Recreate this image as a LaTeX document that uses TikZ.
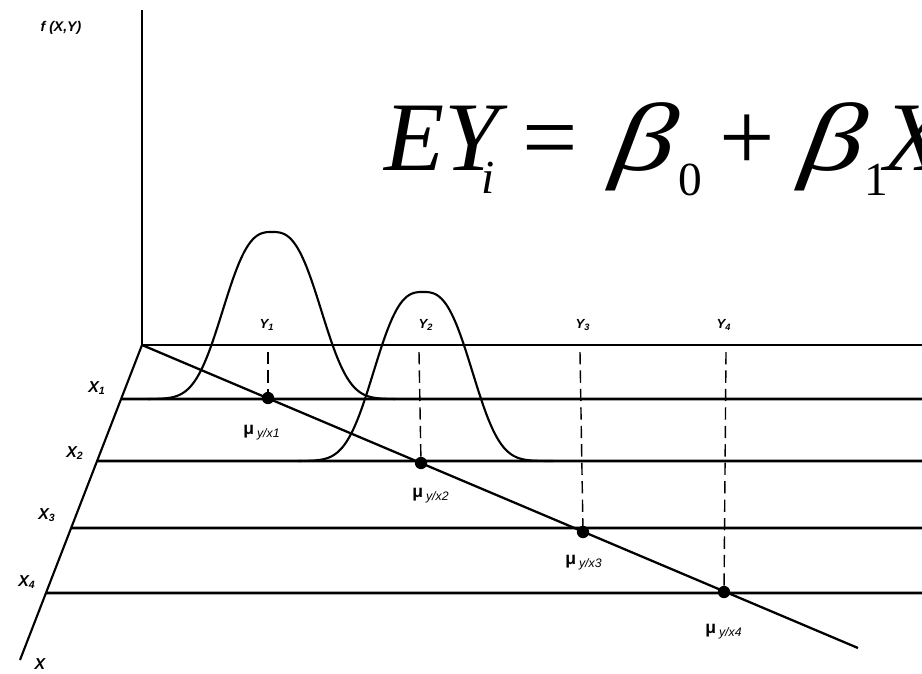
\documentclass[tikz,border=0pt]{standalone}
\usepackage{fontspec}
\usepackage{graphicx}
\setmainfont{Liberation Serif}
\newfontfamily\lsans{Liberation Sans}
\usetikzlibrary{calc}
\newcommand{\bigbeta}{\scalebox{1.25}[0.98]{\itshape β}}
\begin{document}
\begin{tikzpicture}[x=0.02cm,y=-0.02cm,
  axisline/.style={line width=1.6pt},
  slantaxis/.style={line width=1.2pt},
  hline/.style={line width=1.6pt},
  regline/.style={line width=1.3pt},
  bell/.style={line width=1.2pt},
  dropline/.style={line width=0.8pt, dash pattern=on 7pt off 3.5pt},
  dotm/.style={circle, fill=black, inner sep=0pt, minimum size=7pt},
  lab/.style={font=\lsans\bfseries\itshape\fontsize{9}{10}\selectfont, inner sep=0pt},
  ylab/.style={font=\lsans\bfseries\itshape\fontsize{7.5}{9}\selectfont, inner sep=0pt},
  mulab/.style={font=\lsans\bfseries\fontsize{10}{11}\selectfont, inner sep=0pt, anchor=west},
  eqbig/.style={font=\fontsize{56}{60}\selectfont, inner sep=0pt, anchor=base west},
  eqsub/.style={font=\fontsize{27}{28}\selectfont, inner sep=0pt, anchor=base west},
]
\useasboundingbox (0,0) rectangle (922,673);
\clip (0,0) rectangle (922,673);

% axes
\coordinate (O) at (142,345);
\coordinate (Ztop) at (142,10);
\coordinate (Xend) at (20,660);
\coordinate (Rend) at (922,345);
\coordinate (Lend) at (858,648);
\draw[axisline] (Ztop) -- (O) -- (Rend);
\draw[slantaxis] (O) -- (Xend);

% horizontal lines from slanted axis
\coordinate (A1) at ($(O)!{54/315}!(Xend)$);
\coordinate (A2) at ($(O)!{116/315}!(Xend)$);
\coordinate (A3) at ($(O)!{183/315}!(Xend)$);
\coordinate (A4) at ($(O)!{248/315}!(Xend)$);
\coordinate (B1) at (922,399);
\coordinate (B2) at (922,461);
\coordinate (B3) at (922,528);
\coordinate (B4) at (922,593);
\draw[hline] (A1) -- (B1);
\draw[hline] (A2) -- (B2);
\draw[hline] (A3) -- (B3);
\draw[hline] (A4) -- (B4);

% bell curves
\draw[bell] plot[domain=-124:123, samples=150, smooth]
  ({272+\x}, {399-167*exp(-pow((abs(\x)+0.01)/58,2.8))});
\draw[bell] plot[domain=-125:130, samples=150, smooth]
  ({423+\x}, {461-169*exp(-pow((abs(\x)+0.01)/58,2.8))});

% regression line
\draw[regline] (O) -- (Lend);

% mean points
\node[dotm] (m1) at (268,398) {};
\node[dotm] (m2) at (421,463) {};
\node[dotm] (m3) at (583,532) {};
\node[dotm] (m4) at (724,592) {};

% dashed drop lines
\coordinate (t1) at (268,352);
\coordinate (t2) at (419,352);
\coordinate (t3) at (580,352);
\coordinate (t4) at (726,352);
\draw[dropline] (t1) -- (m1.center);
\draw[dropline] (t2) -- (m2.center);
\draw[dropline] (t3) -- (m3.center);
\draw[dropline] (t4) -- (m4.center);

% labels
\node[lab, font=\lsans\bfseries\itshape\fontsize{8}{9}\selectfont] (fxy) at (61,28) {f (X,Y)};
\node[lab] (x1) at (97,388) {X\textsubscript{1}};
\node[lab] (x2) at (75,453) {X\textsubscript{2}};
\node[lab] (x3) at (47,515) {X\textsubscript{3}};
\node[lab] (x4) at (27,582) {X\textsubscript{4}};
\node[lab] (xx) at (40,664) {X};
\node[ylab] (y1) at (267,325) {Y\textsubscript{1}};
\node[ylab] (y2) at (426,325) {Y\textsubscript{2}};
\node[ylab] (y3) at (583,325) {Y\textsubscript{3}};
\node[ylab] (y4) at (724,325) {Y\textsubscript{4}};
\node[mulab] (mu1) at (243,433) {μ\,\textsubscript{\itshape\mdseries y/x1}};
\node[mulab] (mu2) at (412,496) {μ\,\textsubscript{\itshape\mdseries y/x2}};
\node[mulab] (mu3) at (565,563) {μ\,\textsubscript{\itshape\mdseries y/x3}};
\node[mulab] (mu4) at (705,632) {μ\,\textsubscript{\itshape\mdseries y/x4}};

% equation
\node[eqbig] (eqEY) at (384,170) {\itshape EY};
\node[eqsub] (eqi) at (481,193) {\itshape i};
\node[eqbig] (eqeq) at (522,170) {=};
\begin{scope}[shift={(610,170)}, xslant=0.15]
  \node[eqbig, transform shape] (eqb0) at (0,0) {\bigbeta};
\end{scope}
\node[eqsub] (eq0) at (678,195) {0};
\node[eqbig] (eqplus) at (719,170) {+};
\begin{scope}[shift={(799,170)}, xslant=0.15]
  \node[eqbig, transform shape] (eqb1) at (0,0) {\bigbeta};
\end{scope}
\node[eqsub] (eq1) at (864,195) {1};
\node[eqbig] (eqX) at (884,170) {\itshape X};
\end{tikzpicture}
\end{document}
